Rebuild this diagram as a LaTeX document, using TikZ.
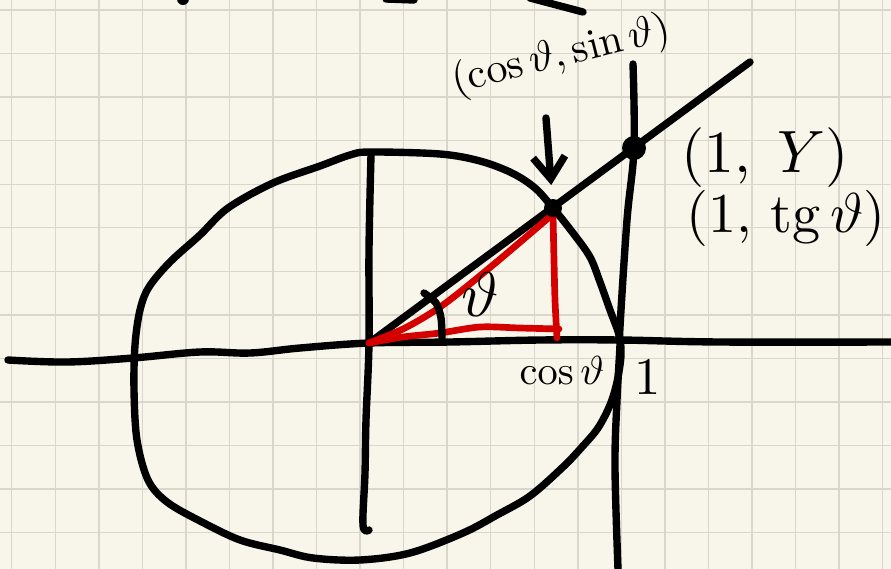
\documentclass[tikz,border=0pt]{standalone}
\usepackage{amsmath}
\usepackage{tikz}
\usetikzlibrary{arrows.meta,positioning,calc}
\definecolor{paper}{HTML}{F8F6EA}
\definecolor{gridline}{HTML}{D9D7CB}
\definecolor{penred}{HTML}{D40000}
\tikzset{
  >={Straight Barb[length=4.4mm,width=6.4mm]},
  % penna
  ink/.style={draw=black,line width=4.2pt,line cap=round,line join=round},
  redink/.style={draw=penred,line width=3.8pt,line cap=round,line join=round},
  dot/.style={circle,fill=black,inner sep=0pt,minimum size=#1},
  dot/.default=3.6mm,
  hand/.style={text=black,inner sep=0pt,scale=#1},
  hand/.default=2.3,
  rutor/.style={draw=gridline,line width=0.8pt},
}

\begin{document}
\begin{tikzpicture}[x=0.2mm,y=-0.2mm]
  % papper
  \fill[paper] (0,0) rectangle (891,569);
  \useasboundingbox (0,0) rectangle (891,569);
  \foreach \i in {0,...,20}
    \draw[rutor] ({11.7+43.55*\i},0) -- ({11.7+43.55*\i},569);
  \foreach \j in {0,...,12}
    \draw[rutor] (0,{10+43.55*\j}) -- (891,{10+43.55*\j});

  % rester upptill
  \fill (183,-1) circle (6);
  \draw[ink] (386,-1) -- (414,0);
  \draw[ink] (530,-2) -- (583,12);

  \coordinate (O) at (369,343);
  \coordinate (P) at (553,208);
  \coordinate (T) at (634,148);
  \coordinate (R) at (750,62);
  \coordinate (F) at (557,338);
  \coordinate (A) at (546,118);

  % axlar
  \draw[ink] plot[smooth,tension=0.6] coordinates {(8,360) (67,362) (133,358)
    (200,352) (250,353) (300,348) (O) (450,342) (540,340) (620,340) (720,342) (891,342)};
  \draw[ink] plot[smooth,tension=0.6] coordinates {(371,155) (369,250) (O)
    (366,420) (365,473) (363,525) (369,530)};

  % cirkeln
  \draw[ink] plot[smooth cycle,tension=0.55] coordinates {(370,152) (440,154)
    (480,161) (512,173) (535,188) (P) (573,233) (590,257) (600,282) (610,310)
    (619,335) (621,355) (617,382) (610,405) (598,428) (582,447) (563,467)
    (530,496) (497,515) (463,533) (410,553) (360,560) (313,558) (280,550)
    (240,540) (200,521) (167,502) (148,480) (137,440) (134,390) (135,345)
    (140,310) (149,287) (170,262) (200,235) (228,208) (273,183) (320,166) (350,155)};

  % tangenten x=1
  \draw[ink] plot[smooth,tension=0.6] coordinates {(633,64) (T) (627,220)
    (620,327) (620,345) (617,400) (615,467) (618,569)};

  % strålen
  \draw[ink] (O) -- (R);

  % triangeln
  \draw[redink] plot[smooth,tension=0.5] coordinates {(O) (405,328) (443,305)
    (493,265) (553,214)};
  \draw[redink] plot[smooth,tension=0.5] coordinates {(553,214) (554,260) (555,300) (F)};
  \draw[redink] plot[smooth,tension=0.5] coordinates {(559,329) (520,328)
    (480,327) (440,333) (403,337) (O)};

  % vinkel
  \draw[ink] plot[smooth] coordinates {(442,338) (441,318) (436,303) (424,293)};

  \node[dot] (Pd) at (P) {};
  \node[dot=4.8mm] (Td) at (T) {};
  \draw[ink,->] (A) -- (P) [shorten >=4.6mm];

  % texter
  \node[hand=2.4,rotate=14] (lblP) at (561,56) {$(\cos\vartheta,\sin\vartheta)$};
  \node[hand=3.4] (lblT) at (765,158) {$(1,\;Y)$};
  \node[hand=3.2,anchor=north west] (lblTg)
    at ($(lblT.south west)+(5,0)$) {$(1,\,\mathrm{tg}\,\vartheta)$};
  \node[hand] (lblCos) at (562,370) {$\cos\vartheta$};
  \node[hand=3] (lblOne) at (648,378) {$1$};
  \node[hand=3.6] (lblTh) at (480,295) {$\vartheta$};
\end{tikzpicture}
\end{document}
